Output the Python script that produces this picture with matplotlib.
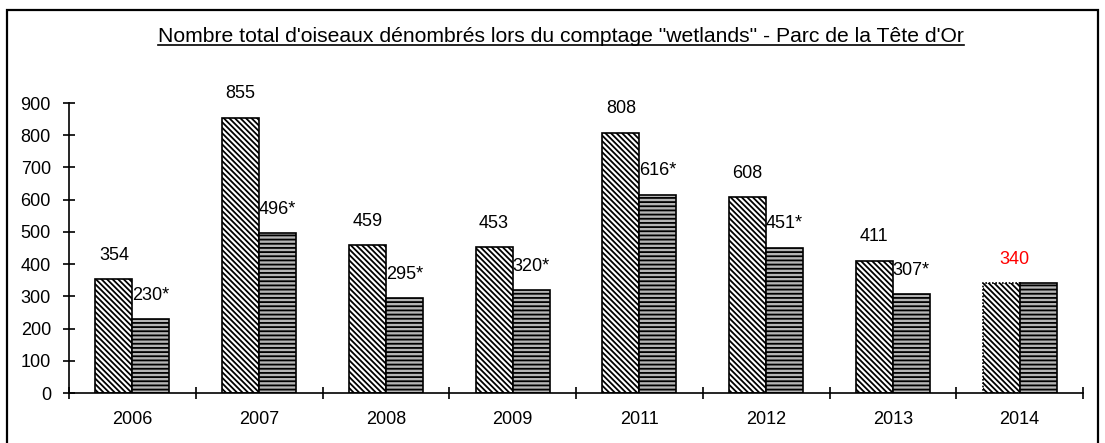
import matplotlib
matplotlib.use("Agg")
import matplotlib.pyplot as plt
import numpy as np
from matplotlib.lines import Line2D
from matplotlib.patches import Rectangle

plt.rcParams["font.family"] = ["Liberation Sans", "DejaVu Sans"]
plt.rcParams["hatch.linewidth"] = 1.3

years = ["2006", "2007", "2008", "2009", "2011", "2012", "2013", "2014"]
total_counts = [354, 855, 459, 453, 808, 608, 411, 340]
second_counts = [230, 496, 295, 320, 616, 451, 307, 340]
second_labels = ["230*", "496*", "295*", "320*", "616*", "451*", "307*", ""]
title = "Nombre total d'oiseaux dénombrés lors du comptage \"wetlands\" - Parc de la Tête d'Or"

fig = plt.figure(figsize=(11.05, 4.43), dpi=100)
ax = fig.add_axes([69 / 1105, 50 / 443, 1014 / 1105, 290 / 443])

# outer frame of the chart
fig.patches.append(Rectangle((7 / 1105, -0.01), 1091 / 1105, 433 / 443 + 0.01,
                             transform=fig.transFigure, fill=False,
                             edgecolor="black", linewidth=1.6))

centers = np.arange(len(years)) + 0.5
width = 0.292

bars_a = ax.bar(centers - width / 2, total_counts, width, color="white",
                edgecolor="black", hatch="\\" * 6, linewidth=1.2)
bars_b = ax.bar(centers + width / 2, second_counts, width, color="#b5b5b5",
                edgecolor="black", hatch="----", linewidth=1.2)
bars_a[-1].set_linestyle((0, (1, 1)))

for i, (bar, value) in enumerate(zip(bars_a, total_counts)):
    if i == len(years) - 1:
        ax.annotate(str(value), (centers[i] - 0.04, value), xytext=(0, 11),
                    textcoords="offset points", ha="center", va="bottom",
                    fontsize=13, color="red")
    else:
        ax.annotate(str(value), (bar.get_x() + width / 2, value), xytext=(0, 11),
                    textcoords="offset points", ha="center", va="bottom",
                    fontsize=13)

for bar, value, label in zip(bars_b, second_counts, second_labels):
    if label:
        ax.annotate(label, (bar.get_x() + width / 2, value), xytext=(0, 11),
                    textcoords="offset points", ha="center", va="bottom",
                    fontsize=13)

ax.set_xlim(0, len(years))
ax.set_ylim(0, 900)
ax.set_yticks(range(0, 901, 100))
ax.set_xticks(range(0, len(years) + 1))
ax.set_xticklabels([])
ax.set_xticks(centers, minor=True)
ax.set_xticklabels(years, minor=True)
ax.tick_params(axis="x", which="major", direction="inout", length=8, width=1.2)
ax.tick_params(axis="x", which="minor", length=0, pad=13, labelsize=13)
ax.tick_params(axis="y", direction="inout", length=8, width=1.2, pad=9, labelsize=13)

for side in ["top", "right"]:
    ax.spines[side].set_visible(False)
for side in ["left", "bottom"]:
    ax.spines[side].set_linewidth(1.2)

t = fig.text(561 / 1105, 1 - 37 / 443, title, ha="center", va="center", fontsize=15.2)
fig.canvas.draw()
bb = t.get_window_extent().transformed(fig.transFigure.inverted())
fig.lines.append(Line2D([bb.x0, bb.x1], [bb.y0 + 0.004, bb.y0 + 0.004],
                        transform=fig.transFigure, color="black", linewidth=1.2))

fig.savefig("out.png", dpi=100)
